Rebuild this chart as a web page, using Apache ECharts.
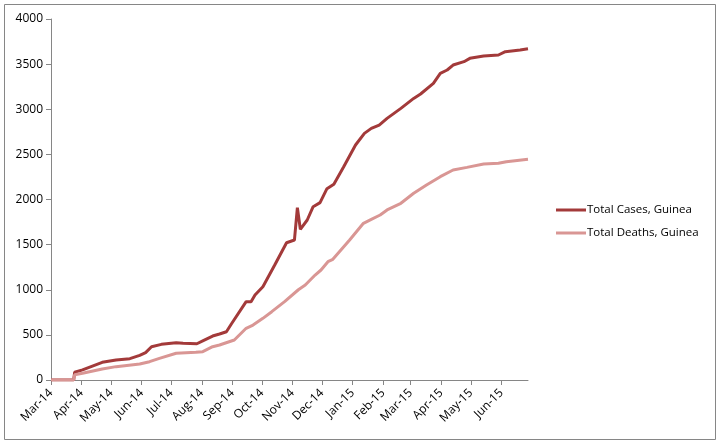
<!DOCTYPE html>
<html>
<head>
<meta charset="utf-8">
<title>Guinea cases and deaths</title>
<script src="https://cdn.jsdelivr.net/npm/echarts@6/dist/echarts.min.js"></script>
<style>
  html, body { margin: 0; padding: 0; background: #fff; }
  #chart { width: 718px; height: 443px; }
</style>
</head>
<body>
<div id="chart"></div>
<script>
// total cases, Guinea
const caseDates = [
  '2014-03-01', '2014-03-24', '2014-03-25', '2014-04-02', '2014-04-22', '2014-05-06',
  '2014-05-20', '2014-05-30', '2014-06-05', '2014-06-11', '2014-06-21', '2014-07-06',
  '2014-07-13', '2014-07-27', '2014-08-03', '2014-08-12', '2014-08-19', '2014-08-26',
  '2014-08-31', '2014-09-15', '2014-09-20', '2014-09-24', '2014-10-02', '2014-10-14',
  '2014-10-26', '2014-11-03', '2014-11-06', '2014-11-09', '2014-11-16', '2014-11-22',
  '2014-11-29', '2014-12-06', '2014-12-13', '2014-12-23', '2015-01-04', '2015-01-13',
  '2015-01-20', '2015-01-28', '2015-02-05', '2015-02-19', '2015-03-04', '2015-03-11',
  '2015-03-24', '2015-03-31', '2015-04-07', '2015-04-13', '2015-04-24', '2015-04-30',
  '2015-05-14', '2015-05-29', '2015-06-05', '2015-06-20', '2015-06-28'
]
const caseValues = [
  0, 0, 86, 112, 196, 222,
  236, 273, 303, 369, 395, 413,
  406, 402, 440, 487, 510, 535,
  620, 868, 868, 942, 1034, 1274,
  1521, 1551, 1910, 1670, 1773, 1920,
  1965, 2120, 2170, 2363, 2604, 2733,
  2788, 2825, 2899, 3010, 3120, 3169,
  3287, 3398, 3435, 3490, 3527, 3564,
  3590, 3601, 3638, 3656, 3670
]

// total deaths, Guinea
const deathDates = [
  '2014-03-01', '2014-03-24', '2014-03-25', '2014-04-02', '2014-04-22', '2014-05-06',
  '2014-05-30', '2014-06-09', '2014-06-19', '2014-07-06', '2014-07-26', '2014-08-02',
  '2014-08-12', '2014-08-19', '2014-09-03', '2014-09-15', '2014-09-22', '2014-10-02',
  '2014-10-11', '2014-10-24', '2014-11-07', '2014-11-14', '2014-11-24', '2014-11-30',
  '2014-12-07', '2014-12-12', '2014-12-29', '2015-01-12', '2015-01-20', '2015-01-29',
  '2015-02-05', '2015-02-19', '2015-03-04', '2015-03-17', '2015-03-31', '2015-04-13',
  '2015-04-27', '2015-05-14', '2015-05-29', '2015-06-06', '2015-06-28'
]
const deathValues = [
  0, 0, 59, 74, 122, 148,
  177, 203, 240, 296, 307, 314,
  369, 388, 443, 573, 609, 683,
  757, 868, 1000, 1052, 1163, 1219,
  1311, 1337, 1551, 1736, 1780, 1828,
  1884, 1958, 2069, 2161, 2253, 2327,
  2356, 2393, 2401, 2419, 2445
]

const seriesNames = ['Total Cases, Guinea', 'Total Deaths, Guinea']
const monthNames = ['Jan', 'Feb', 'Mar', 'Apr', 'May', 'Jun', 'Jul', 'Aug', 'Sep', 'Oct', 'Nov', 'Dec']
const xStart = '2014-03-01'
const xEnd = '2015-06-28'

const DAY = 24 * 3600 * 1000
const FONT = 'Open Sans'

const toPairs = (dates, values) => dates.map((d, i) => [d, values[i]])

const myChart = echarts.init(document.getElementById('chart'))
myChart.setOption({
  animation: false,
  textStyle: { fontFamily: FONT },
  /* 外框 */
  graphic: [
    {
      type: 'rect',
      shape: { x: 4.5, y: 4.5, width: 711, height: 435 },
      style: { fill: 'none', stroke: '#868686', lineWidth: 1 },
      silent: true
    }
  ],
  grid: { left: 51, right: 190, top: 19, bottom: 63 },
  legend: {
    orient: 'vertical',
    left: 551,
    top: 199,
    icon: 'rect',
    itemWidth: 30,
    itemHeight: 3,
    itemGap: 11,
    textStyle: { fontFamily: FONT, fontSize: 11.5, color: '#000', padding: [0, 0, 0, -4] },
    data: seriesNames
  },
  xAxis: {
    type: 'time',
    min: xStart,
    max: xEnd,
    minInterval: 28 * DAY,
    maxInterval: 31 * DAY,
    splitLine: { show: false },
    axisLine: { lineStyle: { color: '#868686' } },
    axisTick: { show: true, length: 5, lineStyle: { color: '#868686' } },
    axisLabel: {
      rotate: 45,
      fontFamily: FONT,
      fontSize: 12,
      color: '#000',
      margin: 11,
      showMinLabel: true,
      hideOverlap: false,
      formatter: function (val) {
        const d = new Date(val)
        return monthNames[d.getMonth()] + '-' + String(d.getFullYear()).slice(2)
      }
    }
  },
  yAxis: {
    type: 'value',
    min: 0,
    max: 4000,
    interval: 500,
    splitLine: { show: false },
    axisLine: { show: true, lineStyle: { color: '#868686' } },
    axisTick: { show: true, length: 5, lineStyle: { color: '#868686' } },
    axisLabel: {
      fontFamily: FONT,
      fontSize: 12,
      color: '#000',
      margin: 8,
      formatter: function (val) {
        return String(val)
      }
    }
  },
  series: [
    {
      name: seriesNames[0],
      type: 'line',
      showSymbol: false,
      symbol: 'none',
      lineStyle: { width: 3, color: '#A33A3A' },
      itemStyle: { color: '#A33A3A' },
      data: toPairs(caseDates, caseValues)
    },
    {
      name: seriesNames[1],
      type: 'line',
      showSymbol: false,
      symbol: 'none',
      lineStyle: { width: 3, color: '#D99694' },
      itemStyle: { color: '#D99694' },
      data: toPairs(deathDates, deathValues)
    }
  ]
})
</script>
</body>
</html>
